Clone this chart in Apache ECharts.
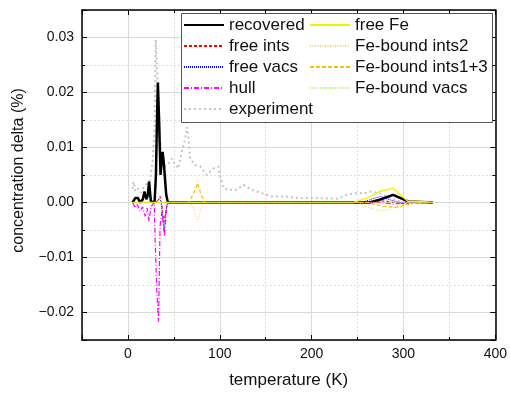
<!DOCTYPE html>
<html><head><meta charset="utf-8">
<script src="https://cdn.jsdelivr.net/npm/echarts@6/dist/echarts.min.js"></script>
<style>html,body{margin:0;padding:0;background:#fff}#c{width:510px;height:394px}</style>
</head><body><div id="c"></div>
<script>
// ---- data (temperature K, concentration delta %) ----
const seriesNames = ['recovered','free ints','free vacs','hull','experiment','free Fe','Fe-bound ints2','Fe-bound ints1+3','Fe-bound vacs'];

const recoveredT = [5, 8, 9.5, 11, 13, 16, 18, 20, 21.5, 23, 25, 29, 30.5, 31.5, 32.6, 34, 35.5, 37.7, 39, 41.7, 43.5, 60, 100, 200, 255, 263, 274, 288.7, 305, 320, 332];
const recoveredV = [0, 0.0008, 0.0011, 0.0008, 0, 0.0005, 0.002, 0.0006, 0.0012, 0.0038, 0.0002, 0, 0.005, 0.014, 0.0218, 0.0146, 0.005, 0.0092, 0.0074, 0.0014, 0, 0, 0, 0, 0, 0, 0.0005, 0.0014, 0.0002, 0.0001, 0];

const freeIntsT = [5, 30, 33, 35, 37, 39, 41, 43, 100, 260, 280, 295, 332];
const freeIntsV = [0, 0, 0.0004, 0.0011, -0.0005, -0.0035, -0.002, 0, 0, 0, 0.0003, -0.0002, 0];

const freeVacsT = [5, 30, 34, 36, 38, 39.5, 41, 43, 100, 255, 265, 275, 285, 295, 332];
const freeVacsV = [0, 0, 0.0007, 0.0002, -0.003, -0.005, -0.002, 0, 0, 0, 0.0006, 0.0011, 0.0005, 0, 0];

const hullT = [5, 8, 10, 13.4, 16, 18.8, 21, 23, 25, 28.6, 29.7, 31.5, 33.3, 35, 37, 39.8, 42, 44, 100, 250, 275, 290, 300, 332];
const hullV = [0, -0.001, -0.0003, -0.0016, -0.0008, -0.0025, -0.001, -0.0034, -0.0008, 0, -0.0073, -0.0163, -0.0217, -0.0043, -0.0017, -0.0061, -0.001, 0, 0, 0, 0, -0.0003, 0, 0];

const experimentT = [5, 6, 8, 11, 14, 18, 21, 24, 26.8, 29, 30.3, 33, 35, 37, 40, 44, 47.8, 51, 55, 58.7, 62.3, 64.2, 66, 67.7, 73, 78.6, 85.9, 93, 98.5, 100, 104, 109, 118.5, 125.7, 134.8, 145.6, 156.5, 171, 185.5, 203.6, 229, 238, 247, 258, 263, 274, 281.5, 290, 300];
const experimentV = [0.0025, 0.0038, 0.002, 0.0025, 0.0018, 0.003, 0.0035, 0.004, 0.0074, 0.0134, 0.0296, 0.0194, 0.0116, 0.0074, 0.0065, 0.007, 0.008, 0.007, 0.0062, 0.0092, 0.0116, 0.0137, 0.0116, 0.008, 0.0068, 0.0066, 0.005, 0.0062, 0.0065, 0.005, 0.0026, 0.0023, 0.0023, 0.0032, 0.0023, 0.0017, 0.0011, 0.0011, 0.0008, 0.0008, 0.0007, 0.0014, 0.0017, 0.0017, 0.002, 0.0017, 0.0011, 0.0005, 0];

const freeFeT = [5, 100, 245, 260, 274, 288.7, 305, 320, 332];
const freeFeV = [0, 0, 0, 0.0008, 0.002, 0.0026, 0.0002, 0.0002, 0];

const feInts2T = [5, 68, 72, 76, 79, 82, 332];
const feInts2V = [0, 0, -0.0015, -0.0034, -0.0015, 0, 0];

const feInts13T = [5, 66, 71, 76, 80, 84, 100, 260, 278, 292, 305, 315, 332];
const feInts13V = [0, 0, 0.0015, 0.0035, 0.0012, 0, 0, 0, -0.0007, -0.0009, -0.0004, 0, 0];

const feVacsT = [5, 100, 252, 263, 274, 285, 292, 305, 332];
const feVacsV = [0, 0, 0, -0.001, -0.0015, -0.0013, -0.0007, 0, 0];

const xTickLabels = ['0','100','200','300','400'];
const yTickLabels = ['\u22120.02','\u22120.01','0.00','0.01','0.02','0.03'];

// ---- chart ----
const zip = (a, b) => a.map((t, i) => [t, b[i]]);
const FONT = '"Liberation Sans", Arial, sans-serif';
const styles = [
  {color:'#000000', width:2.5, type:'solid'},
  {color:'#ff0000', width:1, type:[3,2]},
  {color:'#0000ff', width:1, type:[1,1]},
  {color:'#ff00ff', width:1.2, type:[5,2,1,2]},
  {color:'#c4c4c4', width:2, type:[2,3]},
  {color:'#f2f200', width:1.3, type:'solid'},
  {color:'#f0d27a', width:1, type:[1,1.5]},
  {color:'#ffc000', width:1.2, type:[4,2]},
  {color:'#b0ee50', width:1, type:[1,1.5]}
];
const dataSets = [
  zip(recoveredT, recoveredV), zip(freeIntsT, freeIntsV), zip(freeVacsT, freeVacsV),
  zip(hullT, hullV), zip(experimentT, experimentV), zip(freeFeT, freeFeV),
  zip(feInts2T, feInts2V), zip(feInts13T, feInts13V), zip(feVacsT, feVacsV)
];
const drawOrder = [4,0,1,2,3,5,6,7,8];
const series = drawOrder.map(i => ({
  name: seriesNames[i], type:'line', data: dataSets[i], symbol:'none',
  xAxisIndex:0, yAxisIndex:0, z: i===4 ? 1 : 2,
  lineStyle: styles[i], itemStyle:{color: styles[i].color}, animation:false
}));

const xFmt = v => { const s = String(Math.round(v)); return (Math.abs(v % 100) < 1e-6 && xTickLabels.includes(s)) ? s : ''; };
const yFmt = v => {
  const k = Math.round(v * 100);
  if (Math.abs(v * 100 - k) > 1e-6) return '';
  const s = (k < 0 ? '\u2212' : '') + (Math.abs(k) / 100).toFixed(2);
  return yTickLabels.includes(s) ? s : '';
};
const axLine = {show:true, onZero:false, lineStyle:{color:'#000', width:1.5}};
const noLine = {show:false, onZero:false};
const majorSplit = {show:true, lineStyle:{color:'#d6d6d6', width:1}};
const minorSplit = {show:true, lineStyle:{color:'#dddddd', width:1, type:[2,2]}};

const xBase = {type:'value', min:-50, max:400};
const yBase = {type:'value', min:-0.025, max:0.035};

const chart = echarts.init(document.getElementById('c'), null, {renderer:'canvas'});
chart.setOption({
  animation:false,
  textStyle:{fontFamily:FONT},
  grid:{left:82, right:14, top:10, bottom:51, containLabel:false},
  xAxis:[
    Object.assign({}, xBase, {position:'bottom', splitNumber:5, axisLine:axLine,
      axisTick:{show:true, inside:true, length:5, lineStyle:{color:'#000'}},
      axisLabel:{formatter:xFmt, fontSize:14, color:'#111', margin:7, fontFamily:FONT},
      splitLine:majorSplit,
      name:'temperature (K)', nameLocation:'middle', nameGap:32,
      nameTextStyle:{fontSize:17, color:'#111', fontFamily:FONT}}),
    Object.assign({}, xBase, {position:'bottom', interval:50, axisLine:noLine,
      axisTick:{show:true, inside:true, length:3, lineStyle:{color:'#000'}},
      axisLabel:{show:false}, splitLine:minorSplit}),
    Object.assign({}, xBase, {position:'top', splitNumber:5, axisLine:axLine,
      axisTick:{show:true, inside:true, length:5, lineStyle:{color:'#000'}},
      axisLabel:{show:false}, splitLine:{show:false}}),
    Object.assign({}, xBase, {position:'top', interval:50, axisLine:noLine,
      axisTick:{show:true, inside:true, length:3, lineStyle:{color:'#000'}},
      axisLabel:{show:false}, splitLine:{show:false}})
  ],
  yAxis:[
    Object.assign({}, yBase, {position:'left', splitNumber:6, axisLine:axLine,
      axisTick:{show:true, inside:true, length:5, lineStyle:{color:'#000'}},
      axisLabel:{formatter:yFmt, fontSize:14, color:'#111', margin:8, fontFamily:FONT},
      splitLine:majorSplit,
      name:'concentration delta (%)', nameLocation:'middle', nameGap:55,
      nameTextStyle:{fontSize:16, color:'#111', fontFamily:FONT, padding:[0,0,0,9]}}),
    Object.assign({}, yBase, {position:'left', interval:0.005, axisLine:noLine,
      axisTick:{show:true, inside:true, length:3, lineStyle:{color:'#000'}},
      axisLabel:{show:false}, splitLine:minorSplit}),
    Object.assign({}, yBase, {position:'right', splitNumber:6, axisLine:axLine,
      axisTick:{show:true, inside:true, length:5, lineStyle:{color:'#000'}},
      axisLabel:{show:false}, splitLine:{show:false}}),
    Object.assign({}, yBase, {position:'right', interval:0.005, axisLine:noLine,
      axisTick:{show:true, inside:true, length:3, lineStyle:{color:'#000'}},
      axisLabel:{show:false}, splitLine:{show:false}})
  ],
  graphic:[{type:'rect', left:181, top:13, z:5, shape:{width:311, height:109},
    style:{fill:'#ffffff', stroke:'#555', lineWidth:1}}],
  legend:[
    {data:seriesNames.slice(0,5), orient:'vertical', left:178, top:11.5, itemWidth:40, itemHeight:14,
     itemGap:4, selectedMode:false, z:10, itemStyle:{opacity:0},
     textStyle:{fontSize:17, color:'#111', fontFamily:FONT}},
    {data:seriesNames.slice(5), orient:'vertical', left:304, top:11.5, itemWidth:40, itemHeight:14,
     itemGap:4, selectedMode:false, z:10, itemStyle:{opacity:0},
     textStyle:{fontSize:17, color:'#111', fontFamily:FONT}}
  ],
  series: series
});
</script></body></html>
